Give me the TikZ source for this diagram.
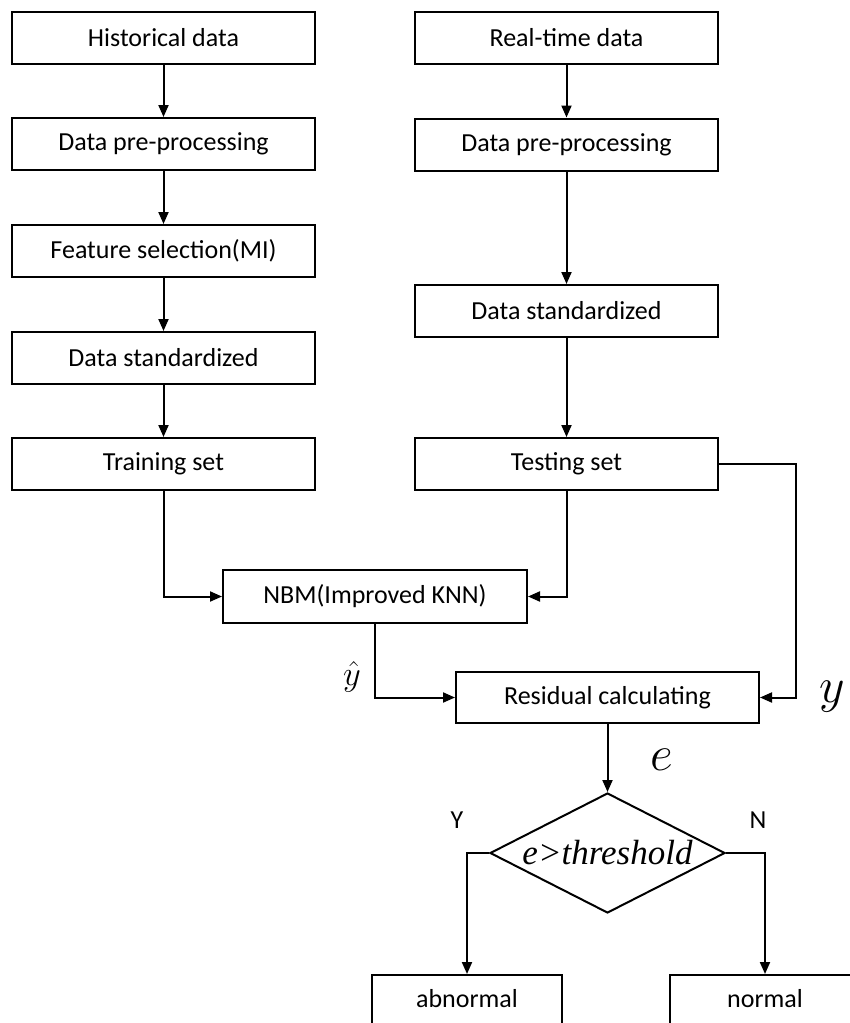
\documentclass[tikz,border=0pt]{standalone}
\usepackage{fontspec}
\setmainfont{Carlito}
\newfontfamily\seriffont{Liberation Serif}
\usetikzlibrary{shapes.geometric,arrows.meta}
\begin{document}
\begin{tikzpicture}[x=0.5pt, y=-0.5pt, line width=1pt,
		box/.style={draw, rectangle, minimum width=151.5pt, minimum height=26pt, inner sep=0pt, font=\fontsize{13}{15}\selectfont},
		dec/.style={draw, diamond, aspect=2, minimum width=117.5pt, minimum height=60pt, inner sep=0pt},
		arr/.style={-{Triangle[length=6pt, width=5pt]}}]
			\useasboundingbox (0, 0) rectangle (850, 1023);
			\clip (0, 0) rectangle (850, 1023);
			\node[box] (hist) at (163.5, 38) {Historical data};
			\node[box] (pre1) at (163.5, 144) {Data pre-processing};
			\node[box] (feat) at (163.5, 251) {Feature selection(MI)};
			\node[box] (std1) at (163.5, 358) {Data standardized};
			\node[box] (train) at (163.5, 464) {Training set};
			\node[box] (real) at (566.5, 38) {Real-time data};
			\node[box] (pre2) at (566.5, 144.5) {Data pre-processing};
			\node[box] (std2) at (566.5, 311) {Data standardized};
			\node[box] (test) at (566.5, 464) {Testing set};
			\node[box, minimum width=152pt, minimum height=26.5pt] (nbm) at (375, 596.5) {NBM(Improved KNN)};
			\node[box, minimum height=25.5pt] (res) at (607.5, 697.5) {Residual calculating};
			\node[dec] (dia) at (607.5, 853) {\seriffont\itshape\fontsize{17.5}{17.5}\selectfont e>threshold};
			\node[box, minimum width=95pt, minimum height=30pt] (abn) at (467, 1005) {\smash{\raisebox{-1pt}{abnormal}}};
			\node[box, minimum width=95pt, minimum height=30pt] (norm) at (765, 1005) {\smash{\raisebox{-1pt}{normal}}};
			\coordinate (corner) at (796, 464);
			\node (yhat) at (352, 677) {\fontsize{17}{17}\selectfont$\hat{y}$};
			\node (yval) at (832, 697) {\fontsize{23}{23}\selectfont$y$};
			\node (eval) at (662, 760) {\fontsize{23}{23}\selectfont$e$};
			\node (yes) at (457, 820) {\fontsize{13}{15}\selectfont Y};
			\node (no) at (758, 820) {\fontsize{13}{15}\selectfont N};
			\draw[arr] (hist) -- (pre1);
			\draw[arr] (pre1) -- (feat);
			\draw[arr] (feat) -- (std1);
			\draw[arr] (std1) -- (train);
			\draw[arr] (real) -- (pre2);
			\draw[arr] (pre2) -- (std2);
			\draw[arr] (std2) -- (test);
			\draw[arr] (train.south) |- (nbm.west);
			\draw[arr] (test.south) |- (nbm.east);
			\draw[arr] (nbm.south) |- (res.west);
			\draw[arr] (test.east) -- (corner) |- (res.east);
			\draw[arr] (res) -- (dia);
			\draw[arr] (dia.west) -| (abn.north);
			\draw[arr] (dia.east) -| (norm.north);
		\end{tikzpicture}
\end{document}
